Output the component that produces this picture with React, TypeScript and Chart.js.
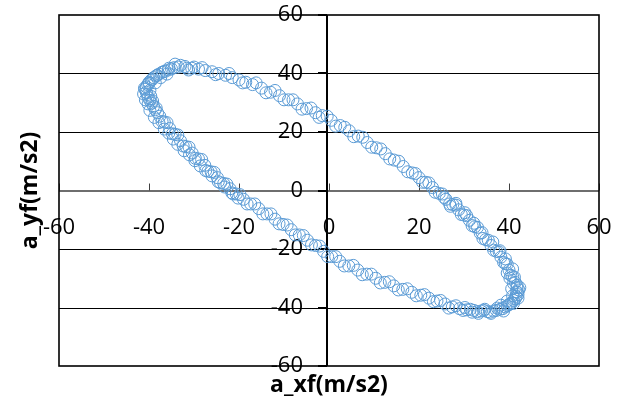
import React, { useEffect, useRef } from "react";
import { Chart, registerables } from "chart.js";

Chart.register(...registerables);

const X_TITLE = "a_xf(m/s2)";
const Y_TITLE = "a_yf(m/s2)";
const X_TICKS = [-60, -40, -20, 0, 20, 40, 60];
const Y_TICKS = [-60, -40, -20, 0, 20, 40, 60];
const GRID_Y = [-40, -20, 20, 40];

// [a_xf, a_yf] samples, first pass around the loop
const LOOP_1: number[][] = [
  [-33.5, 42.2], [-32, 42.4], [-30.5, 41.8], [-29, 41.5], [-27.5, 41.0], [-26, 40.6], [-24.5, 40.0], [-23, 39.4],
  [-21.5, 38.6], [-20, 37.8], [-18.5, 37.0], [-17, 36.2], [-15, 35.0], [-13, 33.6], [-11, 32.4], [-9, 31.0],
  [-7, 29.6], [-5, 28.0], [-3, 26.6], [-1.5, 25.6], [0.5, 24.0], [2.5, 22.2], [4.5, 20.4], [6.5, 18.6],
  [8.5, 16.4], [10.5, 14.6], [12.5, 12.6], [14.5, 10.4], [16.5, 8.2], [18.5, 6.0], [20, 4.4], [21.5, 2.8],
  [23, 1.0], [24.5, -1.0], [26, -3.0], [27.5, -4.8], [28.8, -6.6], [30, -8.4], [31.2, -10.2], [32.4, -12.4],
  [33.6, -14.6], [34.8, -16.8], [36, -18.8], [37.2, -20.8], [38.2, -22.8], [39.2, -25.0], [40, -27.2], [40.8, -29.4],
  [41.4, -31.4], [41.8, -33.2], [41.9, -34.8], [41.6, -36.2], [41, -37.6], [40.2, -38.8], [39.2, -39.8], [38, -40.6],
  [36.6, -41.2], [35.2, -41.4], [33.8, -41.2], [32.2, -41.0], [30.6, -40.8], [29, -40.4], [27.4, -39.8], [25.8, -38.8],
  [24, -37.8], [22.2, -36.8], [20.4, -35.8], [18.4, -34.8], [16.4, -33.8], [14.4, -32.6], [12.4, -31.4], [10.4, -30.0],
  [8.4, -28.6], [6.4, -27.2], [4.4, -25.8], [2.4, -24.2], [0.6, -22.6], [-1.2, -20.8], [-3, -18.8], [-4.8, -17.0],
  [-6.6, -15.2], [-8.4, -13.4], [-10.2, -11.6], [-12, -9.8], [-13.8, -8.0], [-15.6, -6.2], [-17.4, -4.6], [-19, -3.0],
  [-20.6, -1.2], [-22, 0.6], [-23.4, 2.4], [-24.8, 4.4], [-26.2, 6.4], [-27.6, 8.6], [-29, 10.8], [-30.4, 12.8],
  [-31.8, 15.0], [-33, 17.0], [-34.2, 19.2], [-35.4, 21.2], [-36.6, 23.4], [-37.6, 25.4], [-38.6, 27.6], [-39.4, 29.8],
  [-40.2, 31.8], [-40.6, 33.6], [-40.6, 35.4], [-40.0, 37.0], [-39.0, 38.6], [-37.8, 39.8], [-36.4, 40.8], [-35, 41.6],
];

// second pass around the loop
const LOOP_2: number[][] = [
  [-34.2, 43.2], [-31.2, 41.2], [-28.2, 42.0], [-25.2, 39.6], [-22.2, 40.0], [-19.2, 36.8], [-16.2, 36.8], [-14, 33.4],
  [-12, 34.2], [-10, 31.0], [-8, 31.0], [-6, 27.8], [-4, 28.2], [-2.2, 25.0], [-0.4, 25.4], [1.5, 22.0],
  [3.5, 21.6], [5.5, 18.4], [7.5, 18.2], [9.5, 14.8], [11.5, 14.2], [13.5, 10.8], [15.5, 10.0], [17.5, 6.4],
  [19.2, 5.8], [20.8, 2.8], [22.2, 2.6], [23.6, -0.6], [25.2, -1.2], [26.8, -4.6], [28.2, -5.0], [29.4, -8.2],
  [30.6, -8.6], [31.8, -12.0], [33, -12.6], [34.2, -16.4], [35.4, -17.0], [36.6, -20.4], [37.8, -21.0], [38.8, -24.6],
  [39.6, -25.2], [40.4, -29.0], [41.2, -29.6], [41.8, -32.4], [42.2, -34.0], [42, -35.6], [41.4, -37.0], [40.6, -38.4],
  [39.6, -39.4], [38.6, -40.4], [37.2, -41.0], [35.8, -41.6], [34.4, -41.0], [33, -41.4], [31.4, -40.6], [29.8, -41.0],
  [28.2, -39.4], [26.6, -40.2], [24.8, -37.6], [23.2, -38.0], [21.2, -35.6], [19.4, -36.0], [17.4, -33.6], [15.4, -34.0],
  [13.4, -31.2], [11.4, -31.6], [9.4, -28.6], [7.4, -28.8], [5.4, -25.6], [3.4, -25.8], [1.5, -22.6], [-0.3, -22.6],
  [-2.1, -19.0], [-3.9, -18.6], [-5.7, -15.4], [-7.5, -15.2], [-9.3, -11.8], [-11.1, -11.4], [-12.9, -8.0], [-14.7, -8.0],
  [-16.5, -4.6], [-18.2, -4.6], [-19.8, -1.4], [-21.3, -1.2], [-22.7, 2.2], [-24.1, 2.6], [-25.5, 6.2], [-26.9, 6.6],
  [-28.3, 10.6], [-29.7, 11.0], [-31.1, 14.8], [-32.4, 15.2], [-33.6, 19.0], [-34.8, 19.4], [-36, 23.2], [-37.1, 23.6],
  [-38.1, 26.6], [-39, 28.8], [-39.8, 30.8], [-40.4, 32.8], [-40.9, 34.6], [-40.3, 36.2], [-39.5, 37.8], [-38.4, 39.2],
  [-37.1, 40.4], [-35.7, 41.2],
];

// dense turning region, upper left
const TURN_UPPER_LEFT: number[][] = [
  [-41.2, 33.0], [-40.8, 31.0], [-41.0, 35.0], [-40.0, 36.6], [-39.2, 38.0], [-38.2, 39.4], [-36.8, 40.6], [-35.6, 41.8],
  [-34.4, 42.0], [-33, 42.8], [-31.6, 41.8], [-30, 42.2], [-39.8, 34.2], [-38.6, 36.8], [-37.4, 38.6], [-36, 39.8],
  [-39.6, 32.2], [-40.2, 29.6], [-39.2, 30.6], [-38.4, 28.2],
];

// dense turning region, lower right
const TURN_LOWER_RIGHT: number[][] = [
  [42.4, -33.2], [41.6, -34.6], [42.0, -36.8], [41.0, -38.6], [40.0, -39.0], [38.8, -41.2], [37.4, -40.2], [36.0, -42.0],
  [34.6, -40.6], [33.2, -42.0], [31.8, -41.6], [30.2, -40.0], [40.6, -33.6], [40.8, -36.0], [39.6, -37.8], [38.2, -39.2],
  [41.0, -31.8], [40.2, -30.0], [39.6, -28.2], [40.8, -26.8],
];

// extra samples on the two slower flanks
const FLANKS: number[][] = [
  [-39.8, 27.4], [-38.8, 25.0], [-37.8, 23.2], [-36.6, 21.0], [-35.6, 19.6], [-34.6, 17.6], [-33.6, 15.8], [-32.2, 13.6],
  [-31, 12.2], [-29.8, 10.2], [-28.6, 8.4], [-27.4, 6.8], [-26, 5.0], [-24.6, 3.0], [-23.2, 1.2], [-21.6, -0.8],
  [-20.2, -2.6], [28.2, -4.4], [30.2, -7.6], [32.2, -11.2], [34, -14.4], [36.4, -17.6], [38, -20.6], [39.2, -23.4],
  [27, -5.4], [25.6, -2.4],
];

const SERIES = [...LOOP_1, ...LOOP_2, ...TURN_UPPER_LEFT, ...TURN_LOWER_RIGHT, ...FLANKS];

const FONT = '"Open Sans", "Liberation Sans", sans-serif';

const axesPlugin = {
  id: "excelAxes",
  beforeDatasetsDraw(chart: any) {
    const { ctx, chartArea: a, scales } = chart;
    const xs = scales.x;
    const ys = scales.y;
    const x0 = xs.getPixelForValue(0);
    const y0 = ys.getPixelForValue(0);
    ctx.save();
    // horizontal gridlines
    ctx.strokeStyle = "#000000";
    ctx.lineWidth = 1;
    GRID_Y.forEach((v) => {
      const y = Math.round(ys.getPixelForValue(v)) + 0.5;
      ctx.beginPath();
      ctx.moveTo(a.left, y);
      ctx.lineTo(a.right, y);
      ctx.stroke();
    });
    // horizontal axis line (y = 0)
    ctx.strokeStyle = "#6e6e6e";
    ctx.lineWidth = 2;
    ctx.beginPath();
    ctx.moveTo(a.left, Math.round(y0));
    ctx.lineTo(a.right, Math.round(y0));
    ctx.stroke();
    // x tick marks
    ctx.strokeStyle = "#404040";
    ctx.lineWidth = 1;
    X_TICKS.forEach((v) => {
      const x = Math.round(xs.getPixelForValue(v)) + 0.5;
      ctx.beginPath();
      ctx.moveTo(x, y0 - 7);
      ctx.lineTo(x, y0);
      ctx.stroke();
    });
    // vertical axis line (x = 0)
    ctx.strokeStyle = "#000000";
    ctx.lineWidth = 2;
    ctx.beginPath();
    ctx.moveTo(Math.round(x0) - 2, a.top);
    ctx.lineTo(Math.round(x0) - 2, a.bottom);
    ctx.stroke();
    // y tick marks
    ctx.lineWidth = 2;
    Y_TICKS.forEach((v) => {
      const y = Math.round(ys.getPixelForValue(v));
      ctx.beginPath();
      ctx.moveTo(x0 - 11, y);
      ctx.lineTo(x0 - 2, y);
      ctx.stroke();
    });
    // plot border
    ctx.strokeStyle = "#000000";
    ctx.lineWidth = 1.6;
    ctx.strokeRect(a.left, a.top, a.right - a.left, a.bottom - a.top);
    // tick labels
    ctx.fillStyle = "#000000";
    ctx.font = `22px ${FONT}`;
    ctx.textAlign = "center";
    ctx.textBaseline = "middle";
    X_TICKS.forEach((v) => {
      ctx.fillText(String(v), xs.getPixelForValue(v), y0 + 37);
    });
    ctx.textAlign = "right";
    Y_TICKS.forEach((v) => {
      ctx.fillText(String(v), x0 - 26, ys.getPixelForValue(v));
    });
    // axis titles
    ctx.font = `bold 23px ${FONT}`;
    ctx.textAlign = "center";
    ctx.fillText(X_TITLE, (a.left + a.right) / 2, a.bottom + 19);
    ctx.translate(30, (a.top + a.bottom) / 2);
    ctx.rotate(-Math.PI / 2);
    ctx.fillText(Y_TITLE, 0, 0);
    ctx.restore();
  },
};

export default function App() {
  const ref = useRef<HTMLCanvasElement | null>(null);
  useEffect(() => {
    if (!ref.current) return;
    const chart = new Chart(ref.current, {
      type: "scatter",
      data: {
        datasets: [
          {
            label: Y_TITLE,
            data: SERIES.map(([x, y]) => ({ x, y })),
            pointStyle: "circle",
            pointRadius: 6,
            pointBorderWidth: 1,
            borderColor: "#5B9BD5",
            backgroundColor: "rgba(0,0,0,0)",
            pointBackgroundColor: "rgba(0,0,0,0)",
            pointBorderColor: "#5B9BD5",
            showLine: false,
          },
        ],
      },
      options: {
        animation: false,
        responsive: false,
        devicePixelRatio: 1,
        layout: { padding: { left: 59, right: 25, top: 15, bottom: 37 } },
        plugins: { legend: { display: false }, tooltip: { enabled: false } },
        scales: {
          x: { type: "linear", min: -60, max: 60, display: false },
          y: { type: "linear", min: -60, max: 60, display: false },
        },
      },
      plugins: [axesPlugin],
    });
    return () => chart.destroy();
  }, []);
  return (
    <div style={{ position: "absolute", left: 0, top: 0, width: 624, height: 403, background: "#ffffff" }}>
      <canvas ref={ref} width={624} height={403} />
    </div>
  );
}
